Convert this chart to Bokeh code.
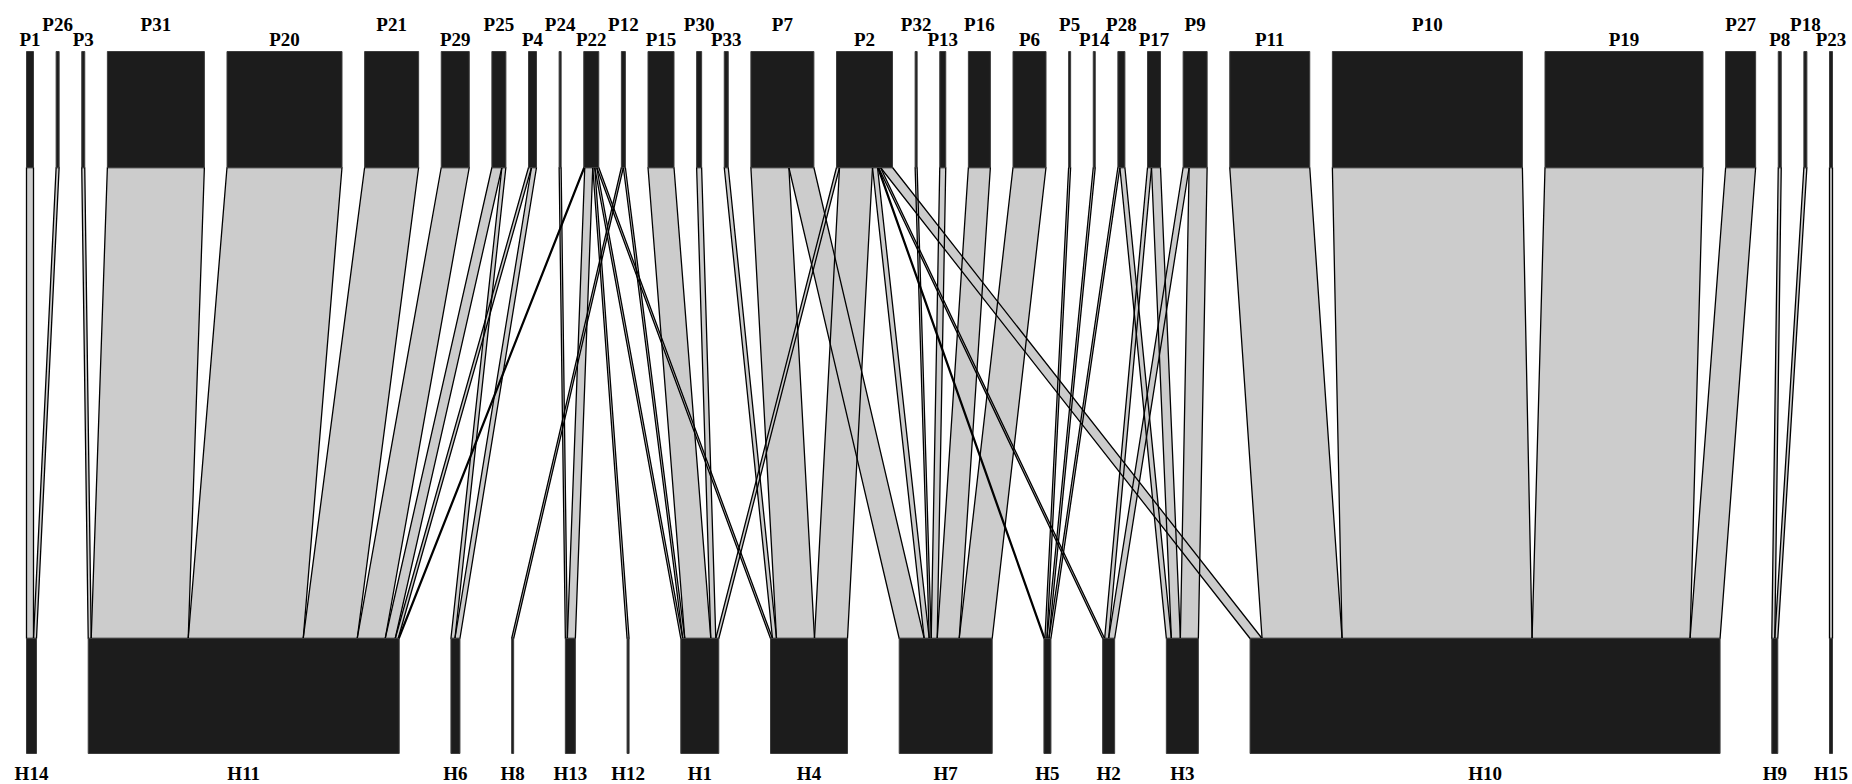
from bokeh.plotting import figure
from bokeh.models import Range1d
from bokeh.core.properties import value
from bokeh.embed import file_html
from bokeh.resources import INLINE

# ---------------- data ----------------
top_nodes = ["P1", "P26", "P3", "P31", "P20", "P21", "P29", "P25", "P4", "P24",
             "P22", "P12", "P15", "P30", "P33", "P7", "P2", "P32", "P13", "P16",
             "P6", "P5", "P14", "P28", "P17", "P9", "P11", "P10", "P19", "P27",
             "P8", "P18", "P23"]
bottom_nodes = ["H14", "H11", "H6", "H8", "H13", "H12", "H1", "H4", "H7", "H5",
                "H2", "H3", "H10", "H9", "H15"]

flow_source = ["P1", "P26", "P3", "P31", "P20", "P21", "P29", "P25", "P25", "P4",
               "P4", "P24", "P22", "P22", "P22", "P22", "P22", "P12", "P12", "P15",
               "P30", "P33", "P7", "P7", "P2", "P2", "P2", "P2", "P2", "P2",
               "P32", "P13", "P16", "P6", "P5", "P14", "P28", "P28", "P17", "P17",
               "P9", "P9", "P11", "P10", "P19", "P27", "P8", "P18", "P23"]
flow_target = ["H14", "H14", "H11", "H11", "H11", "H11", "H11", "H11", "H6", "H11",
               "H6", "H13", "H11", "H13", "H12", "H1", "H4", "H8", "H1", "H1",
               "H1", "H4", "H4", "H7", "H1", "H4", "H7", "H5", "H2", "H10",
               "H7", "H7", "H7", "H7", "H5", "H5", "H5", "H3", "H2", "H3",
               "H2", "H3", "H10", "H10", "H10", "H10", "H9", "H9", "H15"]
flow_value = [7, 3, 3, 97, 115, 54, 28, 10, 4, 3,
              5, 2, 1, 8, 2, 2, 2, 2, 2, 26,
              5, 4, 38, 25, 3, 33, 5, 1, 2, 12,
              2, 6, 22, 33, 2, 2, 2, 5, 4, 9,
              6, 18, 80, 190, 158, 30, 3, 3, 3]

# ---------------- layout ----------------
W, H = 1852, 784
ROW_LEFT, ROW_RIGHT = 26, 1832
TOP_Y0, TOP_Y1 = 51, 167
BOT_Y0, BOT_Y1 = 638, 753
LABEL_HIGH, LABEL_LOW, LABEL_BOTTOM = 24, 39, 773

totals_top = {n: 0 for n in top_nodes}
totals_bot = {n: 0 for n in bottom_nodes}
for s, t, v in zip(flow_source, flow_target, flow_value):
    totals_top[s] += v
    totals_bot[t] += v


def layout(nodes, totals):
    total = sum(totals[n] for n in nodes)
    gap = (ROW_RIGHT - ROW_LEFT - total) / (len(nodes) - 1)
    pos, x = {}, ROW_LEFT
    for n in nodes:
        pos[n] = x
        x += totals[n] + gap
    return pos


pos_top = layout(top_nodes, totals_top)
pos_bot = layout(bottom_nodes, totals_bot)

ti = {n: i for i, n in enumerate(top_nodes)}
bi = {n: i for i, n in enumerate(bottom_nodes)}
flows = list(zip(flow_source, flow_target, flow_value))

top_off = {}
for n in top_nodes:
    x = pos_top[n]
    for f in sorted([f for f in flows if f[0] == n], key=lambda f: bi[f[1]]):
        top_off[f] = x
        x += f[2]
bot_off = {}
for n in bottom_nodes:
    x = pos_bot[n]
    for f in sorted([f for f in flows if f[1] == n], key=lambda f: ti[f[0]]):
        bot_off[f] = x
        x += f[2]

xs, ys = [], []
for f in flows:
    a, b, v = top_off[f], bot_off[f], f[2]
    xs.append([a, a + v, b + v, b])
    ys.append([TOP_Y1, TOP_Y1, BOT_Y0, BOT_Y0])

p = figure(width=W, height=H, x_range=Range1d(0, W), y_range=Range1d(H, 0),
           output_backend="svg", toolbar_location=None, min_border=0,
           x_axis_type=None, y_axis_type=None)
p.grid.visible = False
p.outline_line_color = None
p.background_fill_color = "white"
p.border_fill_color = "white"

p.patches(xs, ys, fill_color="#cccccc", line_color=None)
p.patches(xs, ys, fill_alpha=0, line_color="#000000", line_width=1.3)

p.quad(left=[pos_top[n] for n in top_nodes],
       right=[pos_top[n] + totals_top[n] for n in top_nodes],
       top=[TOP_Y0] * len(top_nodes), bottom=[TOP_Y1] * len(top_nodes),
       fill_color="#1c1c1c", line_color="#3c3c3c", line_width=1)
p.quad(left=[pos_bot[n] for n in bottom_nodes],
       right=[pos_bot[n] + totals_bot[n] for n in bottom_nodes],
       top=[BOT_Y0] * len(bottom_nodes), bottom=[BOT_Y1] * len(bottom_nodes),
       fill_color="#1c1c1c", line_color="#3c3c3c", line_width=1)

font = value("Liberation Serif")
p.text(x=[pos_top[n] + totals_top[n] / 2 for n in top_nodes],
       y=[LABEL_LOW if i % 2 == 0 else LABEL_HIGH for i in range(len(top_nodes))],
       text=top_nodes, text_font=font, text_font_style="bold",
       text_font_size="19px", text_align="center", text_baseline="middle",
       text_color="black")
p.text(x=[pos_bot[n] + totals_bot[n] / 2 for n in bottom_nodes],
       y=[LABEL_BOTTOM] * len(bottom_nodes),
       text=bottom_nodes, text_font=font, text_font_style="bold",
       text_font_size="19px", text_align="center", text_baseline="middle",
       text_color="black")

open("out.html", "w").write(file_html(p, INLINE))
